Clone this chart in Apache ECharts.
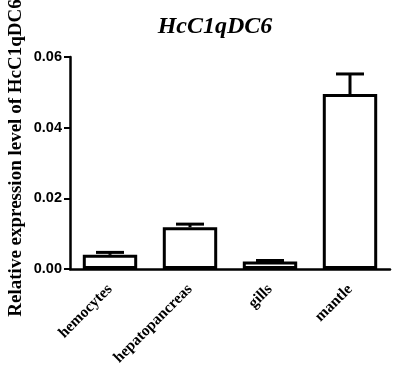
<!DOCTYPE html>
<html>
<head>
<meta charset="utf-8">
<script src="https://cdn.jsdelivr.net/npm/echarts@6/dist/echarts.min.js"></script>
<style>
html, body { margin: 0; padding: 0; background: #fff; }
#main { width: 397px; height: 377px; }
</style>
</head>
<body>
<div id="main"></div>
<script>
var tissues = ['hemocytes', 'hepatopancreas', 'gills', 'mantle'];
var expression = [0.0040, 0.0118, 0.0021, 0.0495];
var errors = [0.0007, 0.0009, 0.0003, 0.0057];
var yTicks = [0, 0.02, 0.04, 0.06];

var chart = echarts.init(document.getElementById('main'));

var errData = expression.map(function (v, i) { return [i, v, errors[i]]; });

var option = {
  animation: false,
  backgroundColor: '#fff',
  title: {
    text: 'HcC1qDC6',
    left: 210,
    textAlign: 'center',
    top: 10,
    textStyle: {
      fontFamily: 'Liberation Serif',
      fontStyle: 'italic',
      fontWeight: 'bold',
      fontSize: 24,
      color: '#000'
    }
  },
  grid: { left: 70, right: 7, top: 57, bottom: 108, outerBoundsMode: 'none', containLabel: false },
  xAxis: {
    type: 'category',
    data: tissues,
    axisLine: { lineStyle: { color: '#000', width: 2.5 } },
    axisTick: { alignWithLabel: true, length: 6, lineStyle: { color: '#000', width: 2 } },
    axisLabel: {
      rotate: 45,
      margin: 18,
      color: '#000',
      fontFamily: 'Liberation Serif',
      fontWeight: 'bold',
      fontSize: 15.5
    }
  },
  yAxis: {
    type: 'value',
    min: yTicks[0],
    max: yTicks[yTicks.length - 1],
    interval: 0.02,
    name: 'Relative expression level of HcC1qDC6',
    nameLocation: 'middle',
    nameRotate: 90,
    nameGap: 44,
    nameMoveOverlap: false,
    nameTextStyle: {
      fontFamily: 'Liberation Serif',
      fontWeight: 'bold',
      fontSize: 19,
      color: '#000',
      padding: [0, 0, 0, 10]
    },
    axisLine: { show: true, lineStyle: { color: '#000', width: 2.5 } },
    axisTick: { show: true, length: 6, lineStyle: { color: '#000', width: 2 } },
    splitLine: { show: false },
    axisLabel: {
      margin: 8,
      color: '#000',
      fontFamily: 'Liberation Sans',
      fontWeight: 'bold',
      fontSize: 14.5,
      formatter: function (v) { return v.toFixed(2); }
    }
  },
  series: [
    {
      type: 'bar',
      data: expression,
      barWidth: '68%',
      itemStyle: { color: '#fff', borderColor: '#000', borderWidth: 3 }
    },
    {
      type: 'custom',
      data: errData,
      z: 3,
      renderItem: function (params, api) {
        var i = api.value(0);
        var base = api.coord([i, api.value(1)]);
        var top = api.coord([i, api.value(1) + api.value(2)]);
        var half = 14;
        var style = { stroke: '#000', lineWidth: 3, fill: null };
        return {
          type: 'group',
          children: [
            { type: 'line', shape: { x1: base[0], y1: base[1], x2: top[0], y2: top[1] }, style: style },
            { type: 'line', shape: { x1: top[0] - half, y1: top[1], x2: top[0] + half, y2: top[1] }, style: style }
          ]
        };
      }
    }
  ]
};

chart.setOption(option);
</script>
</body>
</html>
